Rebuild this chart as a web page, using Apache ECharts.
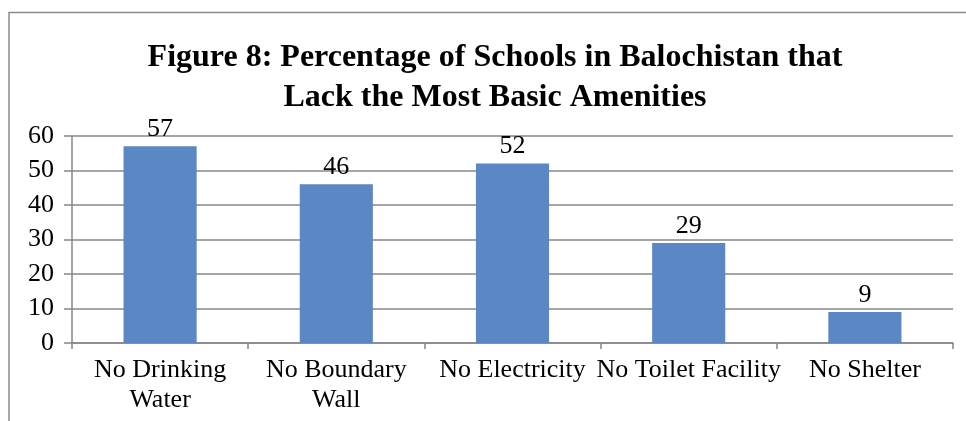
<!DOCTYPE html>
<html>
<head>
<meta charset="utf-8">
<script src="https://cdn.jsdelivr.net/npm/echarts@6/dist/echarts.min.js"></script>
<style>
  html, body { margin: 0; padding: 0; background: #fff; }
  #chart { width: 966px; height: 421px; }
</style>
</head>
<body>
<div id="chart"></div>
<script>
const categories = ['No Drinking\nWater', 'No Boundary\nWall', 'No Electricity', 'No Toilet Facility', 'No Shelter'];
const values = [57, 46, 52, 29, 9];
const titleText = 'Figure 8: Percentage of Schools in Balochistan that\nLack the Most Basic Amenities';

const serif = "'Liberation Serif', 'Times New Roman', serif";
const gray = '#878787';

const chart = echarts.init(document.getElementById('chart'), null, { renderer: 'canvas' });

let option = {
  animation: false,
  backgroundColor: '#fff',
  graphic: [
    {
      type: 'rect',
      shape: { x: 9, y: 12.5, width: 1000, height: 500 },
      style: { fill: 'none', stroke: '#8a8a8a', lineWidth: 1.5 },
      silent: true
    }
  ],
  title: {
    text: titleText,
    left: 490,
    top: 33,
    textAlign: 'center',
    textStyle: {
      fontFamily: serif,
      fontWeight: 'bold',
      fontSize: 32,
      lineHeight: 40,
      color: '#000'
    }
  },
  grid: { left: 72, right: 13, top: 136, bottom: 78, containLabel: false },
  xAxis: {
    type: 'category',
    data: categories,
    axisLine: { lineStyle: { color: gray, width: 1.5 } },
    axisTick: { show: true, length: 6, alignWithLabel: false, lineStyle: { color: gray, width: 1.5 } },
    axisLabel: {
      interval: 0,
      margin: 12,
      fontFamily: serif,
      fontSize: 26,
      lineHeight: 30,
      color: '#000'
    }
  },
  yAxis: {
    type: 'value',
    min: 0,
    max: 60,
    interval: 10,
    axisLine: { show: true, lineStyle: { color: gray, width: 1.5 } },
    axisTick: { show: true, length: 8, lineStyle: { color: gray, width: 1.5 } },
    splitLine: { show: true, lineStyle: { color: gray, width: 1.5 } },
    axisLabel: {
      margin: 18,
      fontFamily: serif,
      fontSize: 26,
      color: '#000'
    }
  },
  series: [
    {
      type: 'bar',
      data: values,
      barWidth: '41.5%',
      itemStyle: { color: '#5B87C5' },
      label: {
        show: true,
        position: 'top',
        distance: 4,
        fontFamily: serif,
        fontSize: 26,
        color: '#000'
      }
    }
  ]
};

chart.setOption(option);
</script>
</body>
</html>
